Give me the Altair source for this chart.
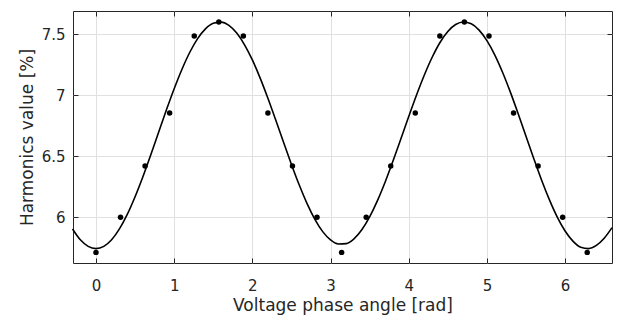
import altair as alt
import pandas as pd

# measured points (phase angle in rad, harmonics value in %)
pt_x = [0.0, 0.314, 0.628, 0.942, 1.257, 1.571, 1.885, 2.199, 2.513, 2.827,
        3.142, 3.456, 3.770, 4.084, 4.398, 4.712, 5.027, 5.341, 5.655, 5.969, 6.283]
pt_y = [5.712, 6.00, 6.42, 6.855, 7.486, 7.60, 7.486, 6.855, 6.42, 6.00,
        5.712, 6.00, 6.42, 6.855, 7.486, 7.60, 7.486, 6.855, 6.42, 6.00, 5.712]

# fitted curve, every 0.1 rad
curve_x = [-0.3, -0.2, -0.1, 0.0, 0.1, 0.2, 0.3, 0.4, 0.5, 0.6, 0.7, 0.8, 0.9,
           1.0, 1.1, 1.2, 1.3, 1.4, 1.5, 1.6, 1.7, 1.8, 1.9, 2.0, 2.1, 2.2, 2.3,
           2.4, 2.5, 2.6, 2.7, 2.8, 2.9, 3.0, 3.1, 3.2, 3.3, 3.4, 3.5, 3.6, 3.7,
           3.8, 3.9, 4.0, 4.1, 4.2, 4.3, 4.4, 4.5, 4.6, 4.7, 4.8, 4.9, 5.0, 5.1,
           5.2, 5.3, 5.4, 5.5, 5.6, 5.7, 5.8, 5.9, 6.0, 6.1, 6.2, 6.3, 6.4, 6.5, 6.6]
curve_y = [5.904, 5.815, 5.761, 5.743, 5.761, 5.815, 5.904, 6.023, 6.168, 6.332,
           6.510, 6.695, 6.878, 7.053, 7.213, 7.352, 7.464, 7.544, 7.590, 7.599,
           7.572, 7.509, 7.413, 7.289, 7.140, 6.973, 6.795, 6.612, 6.433, 6.264,
           6.112, 5.983, 5.882, 5.814, 5.781, 5.784, 5.823, 5.897, 6.003, 6.136,
           6.291, 6.463, 6.643, 6.825, 7.002, 7.166, 7.311, 7.432, 7.522, 7.579,
           7.600, 7.585, 7.533, 7.447, 7.331, 7.188, 7.025, 6.848, 6.664, 6.480,
           6.303, 6.142, 6.001, 5.887, 5.804, 5.754, 5.743, 5.769, 5.828, 5.915]

x_ticks = [0, 1, 2, 3, 4, 5, 6]
y_ticks = [6, 6.5, 7, 7.5]

pts = pd.DataFrame({"x": pt_x, "y": pt_y})
crv = pd.DataFrame({"x": curve_x, "y": curve_y})

FONT = "DejaVu Sans"
TXT = "#262626"
xs = alt.Scale(domain=[-0.294, 6.6], nice=False, zero=False)
ys = alt.Scale(domain=[5.625, 7.69], nice=False, zero=False)

def tick_axis(orient, values):
    return alt.Axis(orient=orient, values=values, labels=False, grid=False,
                    domain=False, ticks=True, tickSize=5, tickColor=TXT,
                    tickWidth=1, offset=-5, title="")

main_x = alt.Axis(orient="bottom", values=x_ticks, grid=True, ticks=False,
                  domain=False, labelFontSize=15, labelFont=FONT, labelColor=TXT,
                  labelPadding=15, title="Voltage phase angle [rad]",
                  titleFont=FONT, titleFontSize=17, titleFontWeight="normal",
                  titleColor=TXT, titlePadding=4, gridColor="#e0e0e0", format="~g")
main_y = alt.Axis(orient="left", values=y_ticks, grid=True, ticks=False,
                  domain=False, labelFontSize=15, labelFont=FONT, labelColor=TXT,
                  labelPadding=8, title="Harmonics value [%]",
                  titleFont=FONT, titleFontSize=17, titleFontWeight="normal",
                  titleColor=TXT, titlePadding=5, gridColor="#e0e0e0", format="~g")

curve = alt.Chart(crv).mark_line(color="black", strokeWidth=1.6, interpolate="monotone").encode(
    x=alt.X("x:Q", scale=xs, axis=main_x),
    y=alt.Y("y:Q", scale=ys, axis=main_y),
)
points = alt.Chart(pts).mark_circle(color="black", size=30, opacity=1).encode(
    x=alt.X("x:Q", scale=xs, axis=tick_axis("bottom", x_ticks)),
    y=alt.Y("y:Q", scale=ys, axis=tick_axis("left", y_ticks)),
)
ghost = alt.Chart(pts).mark_circle(opacity=0).encode(
    x=alt.X("x:Q", scale=xs, axis=tick_axis("top", x_ticks)),
    y=alt.Y("y:Q", scale=ys, axis=tick_axis("right", y_ticks)),
)

chart = alt.layer(curve, points, ghost).resolve_scale(
    x="shared", y="shared"
).resolve_axis(
    x="independent", y="independent"
).properties(
    width=539, height=252,
    autosize=alt.AutoSizeParams(type="none"),
    padding={"left": 73, "top": 11, "right": 5, "bottom": 57},
    background="white",
).configure_view(stroke=TXT, strokeWidth=1)

chart.save("out.html", embed_options={"renderer": "svg", "actions": False})
